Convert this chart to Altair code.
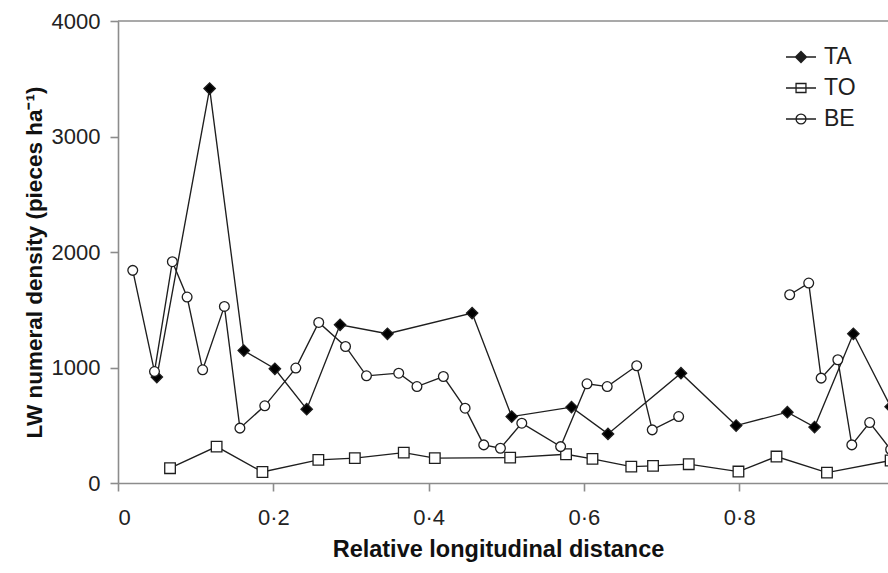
import altair as alt
import pandas as pd

# ---- data ----
series_names = ["TA", "TO", "BE"]

ta_x = [0.050, 0.118, 0.162, 0.202, 0.243, 0.286, 0.347, 0.456, 0.507, 0.584,
        0.631, 0.725, 0.796, 0.862, 0.897, 0.947, 0.995]
ta_y = [917, 3415, 1147, 989, 639, 1370, 1292, 1471, 575, 657,
        425, 951, 497, 613, 484, 1292, 660]

to_x = [0.067, 0.127, 0.186, 0.258, 0.305, 0.368, 0.408, 0.505, 0.577, 0.611,
        0.661, 0.689, 0.735, 0.799, 0.848, 0.913, 0.995]
to_y = [128, 315, 95, 200, 215, 263, 215, 220, 249, 209,
        142, 148, 163, 99, 229, 90, 195]

be_x = [0.019, 0.047, 0.070, 0.089, 0.109, 0.137, 0.157, 0.189, 0.229, 0.2585,
        0.293, 0.320, 0.3615, 0.385, 0.419, 0.447, 0.471, 0.4925, 0.520, 0.570,
        0.604, 0.630, 0.668, 0.688, 0.722,
        0.865, 0.8895, 0.9055, 0.927, 0.945, 0.968, 0.995]
be_y = [1841, 965, 1916, 1610, 980, 1529, 475, 668, 995, 1390,
        1182, 928, 951, 835, 922, 648, 330, 301, 518, 315,
        859, 835, 1015, 460, 575,
        1630, 1731, 908, 1067, 330, 523, 290]
be_seg = [0] * 25 + [1] * 7

y_ticks = [0, 1000, 2000, 3000, 4000]
x_ticks = [0, 0.2, 0.4, 0.6, 0.8]

marker_shapes = ["diamond", "square", "circle"]
marker_fill = ["#000000", "#ffffff", "#ffffff"]
marker_size = [130, 95, 115]


def diamond_rings(rs):
    return "".join(f"M0,{-r}L{r},0L0,{r}L{-r},0Z" for r in rs)


legend_paths = [
    "M-1,0H1" + diamond_rings([0.37, 0.31, 0.25, 0.19, 0.13, 0.07, 0.02]),
    "M-1,0H1M-0.33,-0.3H0.33V0.3H-0.33Z",
    "M-1,0H1M-0.33,0A0.33,0.33 0 1,0 0.33,0A0.33,0.33 0 1,0 -0.33,0Z",
]

rows = []
for name, xs, ys, segs in [
    ("TA", ta_x, ta_y, [0] * len(ta_x)),
    ("TO", to_x, to_y, [0] * len(to_x)),
    ("BE", be_x, be_y, be_seg),
]:
    for xv, yv, s in zip(xs, ys, segs):
        rows.append({"site": name, "dist": xv, "dens": yv, "seg": f"{name}{s}"})
df = pd.DataFrame(rows)

FONT = "Liberation Sans"
GRAY = "#8c8c8c"
INK = "#1e1e1e"

x_enc = alt.X(
    "dist:Q",
    scale=alt.Scale(domain=[0, 0.9916], nice=False, zero=False),
    axis=alt.Axis(
        values=x_ticks, format=".1~f",
        labelExpr="replace(datum.label, '.', '·')",
        title="Relative longitudinal distance",
        titleX=380, titleY=66, titleBaseline="middle", titleAlign="center",
        titleFontSize=23.5, labelPadding=16,
    ),
)
y_enc = alt.Y(
    "dens:Q",
    scale=alt.Scale(domain=[0, 4000], nice=False),
    axis=alt.Axis(
        values=y_ticks, format="d", title="LW numeral density (pieces ha⁻¹)",
        titleX=-84, titleY=241, titleAngle=-90,
        titleBaseline="middle", titleAlign="center",
        titleFontSize=22.5, labelPadding=10,
    ),
)

lines = alt.Chart(df).mark_line(color=INK, strokeWidth=1.35, clip=True).encode(
    x=x_enc, y=y_enc, detail="seg:N", order="dist:Q"
)

points = alt.Chart(df).mark_point(
    filled=True, stroke=INK, strokeWidth=1.3, opacity=1, clip=True
).encode(
    x="dist:Q", y="dens:Q",
    shape=alt.Shape("site:N", scale=alt.Scale(domain=series_names, range=marker_shapes), legend=None),
    fill=alt.Fill("site:N", scale=alt.Scale(domain=series_names, range=marker_fill), legend=None),
    size=alt.Size("site:N", scale=alt.Scale(domain=series_names, range=marker_size), legend=None),
)

legend_cfg = alt.Legend(
    title=None, orient="none", legendX=667, legendY=20,
    symbolSize=900, symbolStrokeColor=INK, symbolFillColor="transparent",
    symbolStrokeWidth=1.3,
    labelFont=FONT, labelFontSize=23, labelColor="#1e1e1e", labelOffset=7,
    rowPadding=3, padding=0, symbolOpacity=1,
)
legend_layer = alt.Chart(df).transform_filter("false").mark_point(
    filled=False, stroke=INK, clip=True
).encode(
    x="dist:Q", y="dens:Q",
    shape=alt.Shape("site:N", scale=alt.Scale(domain=series_names, range=legend_paths), legend=legend_cfg),
)

top_rule = alt.Chart(pd.DataFrame({"v": [0]})).mark_rule(color=GRAY, strokeWidth=1.6).encode(
    y=alt.datum(y_ticks[-1])
)

chart = (
    alt.layer(top_rule, lines, points, legend_layer)
    .resolve_scale(shape="independent", fill="independent", size="independent")
    .properties(
        width=770, height=462,
        autosize=alt.AutoSizeParams(type="none"),
        padding={"left": 118, "top": 21, "right": 0, "bottom": 90},
        background="white",
    )
    .configure_view(stroke=None)
    .configure_axis(
        grid=False, domainColor=GRAY, domainWidth=1.6, tickColor=GRAY, tickWidth=1.6,
        tickSize=8, labelFont=FONT, labelFontSize=22, labelColor="#222222",
        titleFont=FONT, titleFontWeight="bold", titleColor="#111111",
    )
)

chart.save("out.html", embed_options={"renderer": "svg", "actions": False})
